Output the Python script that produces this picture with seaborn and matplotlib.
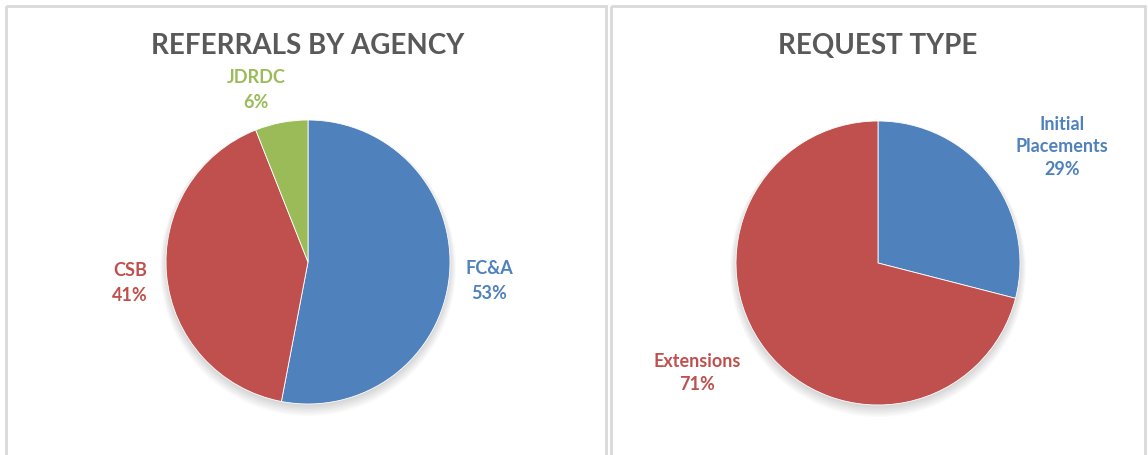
import numpy as np
import seaborn as sns
import matplotlib.pyplot as plt
from matplotlib.patches import Rectangle, Circle

sns.set_theme(style='white')
plt.rcParams['font.family'] = ['Lato', 'DejaVu Sans']

#chart data
agency_names = ['FC&A', 'CSB', 'JDRDC']
agency_pct = [53, 41, 6]
request_names = ['Initial\nPlacements', 'Extensions']
request_pct = [29, 71]

blue = '#4F81BD'
red = '#C0504D'
green = '#9BBB59'
agency_colors = [blue, red, green]
request_colors = [blue, red]

#layout in pixels (figure is 1148 x 455)
W, H = 1148, 455
R = 142
panels = [(6, 606), (611, 1145)]
centers = [(308, 262), (878, 263)]
titles = ['REFERRALS BY AGENCY', 'REQUEST TYPE']
#label centres relative to the pie centre, in radii
label_pos = [[(1.275, -0.134), (-1.254, -0.148), (-0.366, 1.211)],
             [(1.296, 0.817), (-1.275, -0.775)]]
label_spacing = [1.55, 1.4]

fig = plt.figure(figsize=(W / 100, H / 100), dpi=100)

#panel borders on a full-figure overlay
bg = fig.add_axes([0, 0, 1, 1])
bg.set_xlim(0, W)
bg.set_ylim(H, 0)
bg.axis('off')
for x0, x1 in panels:
    bg.add_patch(Rectangle((x0, 6), x1 - x0, H + 10, fill=False,
                           edgecolor='#D9D9D9', linewidth=2))

chart_data = [(agency_names, agency_pct, agency_colors),
              (request_names, request_pct, request_colors)]

for i, (names, pct, colors) in enumerate(chart_data):
    x0, x1 = panels[i]
    cx, cy = centers[i]
    ax = fig.add_axes([(x0 + 2) / W, 0, (x1 - x0 - 4) / W, 1 - 8 / H])

    #soft shadow under the pie
    for k in range(8):
        ax.add_patch(Circle((0, -0.015 - 0.004 * k), 1.0 + 0.006 * k,
                            color='black', alpha=0.018, linewidth=0, zorder=0))

    wedges, _ = ax.pie(pct, colors=colors, startangle=90, counterclock=False,
                       radius=1, center=(0, 0), frame=True,
                       wedgeprops={'linewidth': 0.6, 'edgecolor': 'white', 'zorder': 2})
    ax.set_xlim((x0 + 2 - cx) / R, (x1 - 2 - cx) / R)
    ax.set_ylim((cy - H) / R, (cy - 8) / R)
    ax.set_aspect('auto')
    ax.axis('off')

    for name, p, c, (lx, ly) in zip(names, pct, colors, label_pos[i]):
        ax.text(lx, ly, f'{name}\n{p}%', color=c, fontsize=13, fontweight='bold',
                ha='center', va='center', linespacing=label_spacing[i])

    fig.text(cx / W, 1 - 46 / H, titles[i], color='#595959', fontsize=20,
             fontweight='bold', ha='center', va='center')

fig.savefig('out.png', dpi=100)
